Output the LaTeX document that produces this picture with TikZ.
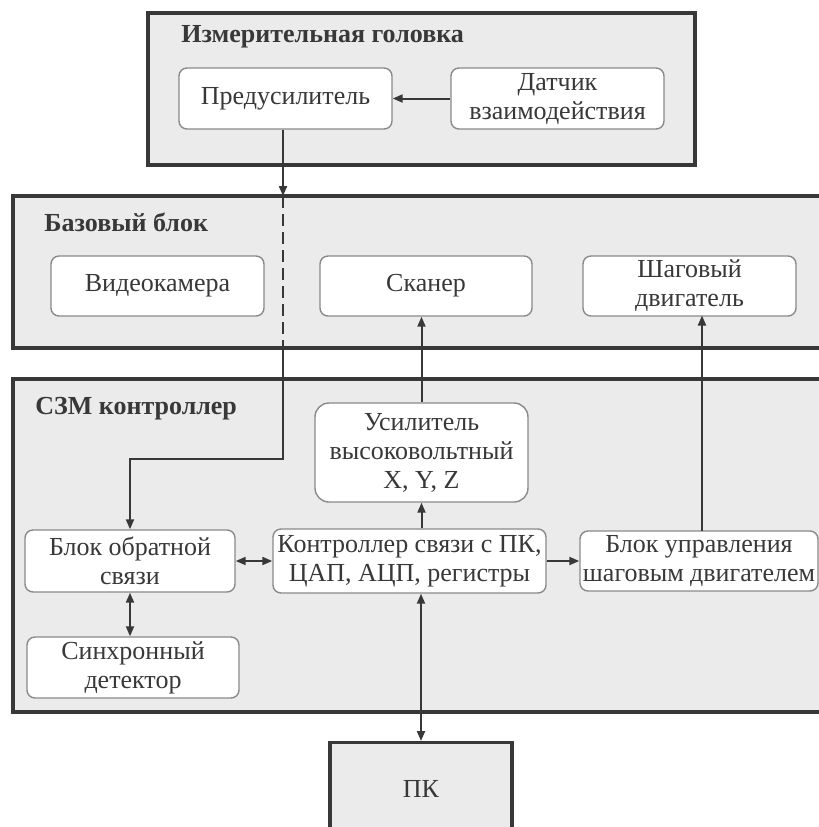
\documentclass[tikz,border=0pt]{standalone}
\usepackage{fontspec}
\setmainfont{Liberation Serif}
\usetikzlibrary{arrows.meta}
\definecolor{ink}{HTML}{383838}
\definecolor{boxline}{HTML}{8A8A8A}
\definecolor{panel}{HTML}{EBEBEB}

\begin{document}
\begin{tikzpicture}[x=0.5pt, y=-0.5pt, every node/.style={font=\fontsize{13}{14.5}\selectfont, text=ink},
	>={Triangle[length=5pt, width=4pt]},
	st/.style={draw=boxline, line width=0.7pt, fill=white, rounded corners=4pt, align=center, inner sep=1pt},
	grp/.style={draw=ink, line width=1.6pt, fill=panel},
	ttl/.style={anchor=west, inner sep=0pt, font=\fontsize{13}{14.5}\selectfont\bfseries},
	wire/.style={draw=ink, line width=1pt}]
	\clip (0,0) rectangle (819,827);
	\fill[white] (0,0) rectangle (819,827);
	% three panels
	\draw[grp] (148,13) rectangle (695,165);
	\draw[grp] (13,196) rectangle (840,348);
	\draw[grp] (13,379) rectangle (840,712);
	\node[ttl] (thead) at (181,37) {Измерительная головка};
	\node[ttl] (tbase) at (44,222) {Базовый блок};
	\node[ttl] (tszm) at (35,409) {СЗМ контроллер};
	% measuring head
	\node[st, minimum width=106.5pt, minimum height=30.5pt] (pre) at (285.5,98.5) {Предусилитель};
	\node[st, minimum width=106.5pt, minimum height=30.5pt] (sens) at (557.5,98.5) {Датчик\\взаимодействия};
	% base block
	\node[st, minimum width=106.5pt, minimum height=30pt] (cam) at (157.5,286) {Видеокамера};
	\node[st, minimum width=106pt, minimum height=30pt] (scan) at (426,286) {Сканер};
	\node[st, minimum width=106.5pt, minimum height=30pt] (step) at (689.5,286) {Шаговый\\двигатель};
	% controller
	\node[st, rounded corners=7pt, minimum width=106.5pt, minimum height=49.5pt] (amp) at (421.5,452.5) {Усилитель\\высоковольтный\\X, Y, Z};
	\node[st, minimum width=105pt, minimum height=31pt] (fb) at (130,561) {Блок обратной\\связи};
	\node[st, minimum width=136.5pt, minimum height=32pt] (ctrl) at (409.5,561) {Контроллер связи с ПК,\\ЦАП, АЦП, регистры};
	\node[st, minimum width=106pt, minimum height=30.5pt] (sync) at (133,667.5) {Синхронный\\детектор};
	\node[st, minimum width=119pt, minimum height=30pt] (drv) at (699,561) {Блок управления\\шаговым двигателем};
	\node[grp, minimum width=91pt, minimum height=46pt, anchor=north] (pc) at (421,741) {ПК};
	% feedback path from the preamplifier
	\coordinate (tapin) at (283,196);
	\coordinate (tapout) at (283,348);
	\coordinate (bend) at (283,459);
	\draw[wire, ->] (pre.south -| tapin) -- (tapin);
	\draw[wire, dashed, dash pattern=on 6pt off 3pt] (tapin) -- (tapout);
	\draw[wire, ->] (tapout) -- (bend) -| (fb.north);
	\draw[wire, ->] (sens.west) -- (pre.east);
	\draw[wire, <->] (fb.east) -- (ctrl.west);
	\draw[wire, <->] (fb.south) -- (fb.south |- sync.north);
	\draw[wire, ->] (ctrl.east) -- (drv.west);
	\draw[wire, ->] (amp.south |- ctrl.north) -- (amp.south);
	\draw[wire, ->] (amp.north) -- (amp.north |- scan.south);
	\draw[wire, ->] (702,531) -- (702,315.5);
	\draw[wire, <->] (pc.north) -- (pc.north |- ctrl.south);
\end{tikzpicture}
\end{document}
